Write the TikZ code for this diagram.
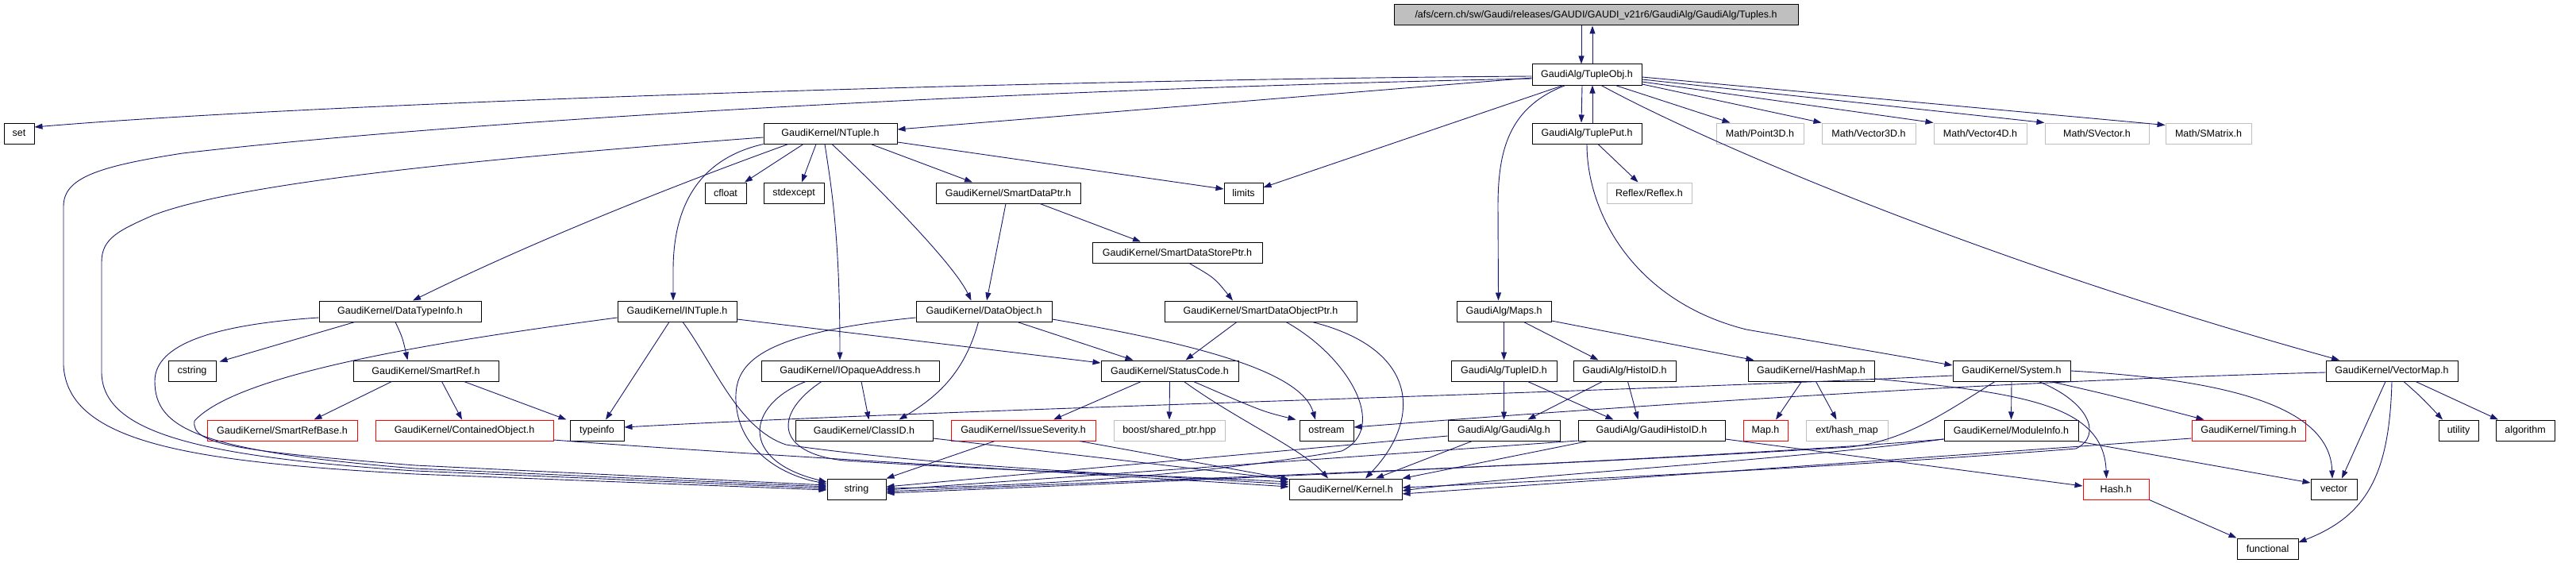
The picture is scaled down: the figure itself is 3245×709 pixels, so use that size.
\documentclass[tikz,border=0pt]{standalone}
\usepackage{fontspec}
\setmainfont{Liberation Sans}
\usetikzlibrary{arrows.meta}
\definecolor{edgec}{HTML}{191970}
\definecolor{grayb}{HTML}{BFBFBF}
\begin{document}
\begin{tikzpicture}[x=1pt,y=-1pt,
  every node/.style={font=\fontsize{12.5}{15}\selectfont},
  nb/.style={draw=black, line width=1pt, inner sep=0pt, minimum height=26pt, anchor=center, text=black},
  ng/.style={nb, draw=grayb},
  nr/.style={nb, draw=red},
  e/.style={draw=edgec, line width=0.9pt, -{Triangle[length=10pt,width=7pt]}},
]
\useasboundingbox (0,0) rectangle (3245,709);
\fill[white] (0,0) rectangle (3245,709);

% row 0
\node[nb, fill=grayb, minimum width=509pt] (tuples) at (2010.5,19) {/afs/cern.ch/sw/Gaudi/releases/GAUDI/GAUDI\_v21r6/GaudiAlg/GaudiAlg/Tuples.h};
% row 1
\node[nb, minimum width=138pt] (tupleobj) at (1999,94) {GaudiAlg/TupleObj.h};
% row 2
\node[nb, minimum width=38pt] (set) at (24,168) {set};
\node[nb, minimum width=168pt] (ntuple) at (1046,168) {GaudiKernel/NTuple.h};
\node[nb, minimum width=138pt] (tupleput) at (1999,168) {GaudiAlg/TuplePut.h};
\node[ng, minimum width=110pt] (point3d) at (2217,168) {Math/Point3D.h};
\node[ng, minimum width=118pt] (vector3d) at (2354,168) {Math/Vector3D.h};
\node[ng, minimum width=117pt] (vector4d) at (2494.5,168) {Math/Vector4D.h};
\node[ng, minimum width=131pt] (svector) at (2641.5,168) {Math/SVector.h};
\node[ng, minimum width=108pt] (smatrix) at (2782,168) {Math/SMatrix.h};
% row 3
\node[nb, minimum width=52pt] (cfloat) at (914,243) {cfloat};
\node[nb, minimum width=76pt] (stdexcept) at (1000,243) {stdexcept};
\node[nb, minimum width=182pt] (smartdataptr) at (1270,243) {GaudiKernel/SmartDataPtr.h};
\node[nb, minimum width=49pt] (limits) at (1566.5,243) {limits};
\node[ng, minimum width=107pt] (reflex) at (2077.5,243) {Reflex/Reflex.h};
% row 4
\node[nb, minimum width=214pt] (smartdatastoreptr) at (1483,318) {GaudiKernel/SmartDataStorePtr.h};
% row 5
\node[nb, minimum width=204pt] (datatypeinfo) at (504,392) {GaudiKernel/DataTypeInfo.h};
\node[nb, minimum width=150pt] (intuple) at (853,392) {GaudiKernel/INTuple.h};
\node[nb, minimum width=171pt] (dataobject) at (1239.5,392) {GaudiKernel/DataObject.h};
\node[nb, minimum width=242pt] (smartdataobjectptr) at (1588,392) {GaudiKernel/SmartDataObjectPtr.h};
\node[nb, minimum width=119pt] (maps) at (1894.5,392) {GaudiAlg/Maps.h};
% row 6
\node[nb, minimum width=60pt] (cstring) at (242,467) {cstring};
\node[nb, minimum width=183pt] (smartref) at (536.5,467) {GaudiKernel/SmartRef.h};
\node[nb, minimum width=224pt] (iopaque) at (1071,467) {GaudiKernel/IOpaqueAddress.h};
\node[nb, minimum width=173pt] (statuscode) at (1473.5,467) {GaudiKernel/StatusCode.h};
\node[nb, minimum width=133pt] (tupleid) at (1894.5,467) {GaudiAlg/TupleID.h};
\node[nb, minimum width=129pt] (histoid) at (2046.5,467) {GaudiAlg/HistoID.h};
\node[nb, minimum width=159pt] (hashmap) at (2281.5,467) {GaudiKernel/HashMap.h};
\node[nb, minimum width=148pt] (system) at (2534,467) {GaudiKernel/System.h};
\node[nb, minimum width=166pt] (vectormap) at (3013,467) {GaudiKernel/VectorMap.h};
% row 7
\node[nr, minimum width=189pt] (smartrefbase) at (355.5,542) {GaudiKernel/SmartRefBase.h};
\node[nr, minimum width=224pt] (containedobject) at (585,542) {GaudiKernel/ContainedObject.h};
\node[nb, minimum width=68pt] (typeinfo) at (752,542) {typeinfo};
\node[nb, minimum width=173pt] (classid) at (1088.5,542) {GaudiKernel/ClassID.h};
\node[nr, minimum width=182pt] (issueseverity) at (1289,542) {GaudiKernel/IssueSeverity.h};
\node[ng, minimum width=140pt] (boost) at (1473,542) {boost/shared\_ptr.hpp};
\node[nb, minimum width=68pt] (ostream) at (1671,542) {ostream};
\node[nb, minimum width=141pt] (gaudialg) at (1894.5,542) {GaudiAlg/GaudiAlg.h};
\node[nb, minimum width=185pt] (gaudihistoid) at (2080.5,542) {GaudiAlg/GaudiHistoID.h};
\node[nr, minimum width=56pt] (maph) at (2224,542) {Map.h};
\node[ng, minimum width=103pt] (exthashmap) at (2326.5,542) {ext/hash\_map};
\node[nb, minimum width=169pt] (moduleinfo) at (2533.5,542) {GaudiKernel/ModuleInfo.h};
\node[nr, minimum width=143pt] (timing) at (2832.5,542) {GaudiKernel/Timing.h};
\node[nb, minimum width=50pt] (utility) at (3097,542) {utility};
\node[nb, minimum width=74pt] (algorithm) at (3181,542) {algorithm};
% row 8
\node[nb, minimum width=74pt] (string) at (1079,616) {string};
\node[nb, minimum width=142pt] (kernel) at (1695,616) {GaudiKernel/Kernel.h};
\node[nr, minimum width=83pt] (hash) at (2665.5,616) {Hash.h};
\node[nb, minimum width=58pt] (vector) at (2940,616) {vector};
% row 9
\node[nb, minimum width=77pt] (functional) at (2856.5,691) {functional};

% ---- edges ----
\draw[e] ([xshift=-18.5pt]tuples.south) -- ([xshift=-7pt]tupleobj.north);
\draw[e] ([xshift=7pt]tupleobj.north) -- ([xshift=-4.5pt]tuples.south);
\draw[e] ([xshift=-6pt]tupleobj.south) -- ([xshift=-7pt]tupleput.north);
\draw[e] ([xshift=7pt]tupleput.north) -- ([xshift=7pt]tupleobj.south);

\draw[e] ([yshift=-2pt]tupleobj.west) .. controls (1300,100) and (400,130) .. ([yshift=8pt]set.east);
\draw[e] ([yshift=-5pt]tupleobj.west) .. controls (1300,112) and (600,150) .. (230,193)
   .. controls (120,210) and (80,225) .. (80,260) -- (80,460)
   .. controls (85,560) and (250,582) .. (523,597) -- ([yshift=-1pt]string.west);
\draw[e] ([yshift=-4pt]tupleobj.west) -- ([yshift=5pt]ntuple.east);
\draw[e] ([xshift=-30pt]tupleobj.south) -- ([yshift=7pt]limits.east);
\draw[e] ([xshift=-27pt]tupleobj.south) .. controls (1900,135) and (1887,190) .. (1887,260) -- ([xshift=-7pt]maps.north);
\draw[e] ([xshift=36pt]tupleobj.south) -- ([xshift=18pt]point3d.north west);
\draw[e] ([yshift=-12pt]tupleobj.east) -- (vector3d.north west);
\draw[e] ([yshift=-9pt]tupleobj.east) -- (vector4d.north west);
\draw[e] ([yshift=-6pt]tupleobj.east) -- (svector.north west);
\draw[e] ([yshift=-3pt]tupleobj.east) -- ([yshift=-3pt]smatrix.north west);
\draw[e] ([xshift=18pt]tupleobj.south) .. controls (2150,180) and (2500,330) .. ([xshift=-66pt]vectormap.north);

\draw[e] ([xshift=14pt]tupleput.south) -- ([xshift=-14pt]reflex.north);
\draw[e] (tupleput.south) .. controls (1999,270) and (2060,380) .. (2200,415) -- ([yshift=7pt]system.west);

\draw[e] ([xshift=-34pt]ntuple.south) -- ([xshift=24pt]cfloat.north);
\draw[e] ([xshift=-18pt]ntuple.south) -- ([xshift=10pt]stdexcept.north);
\draw[e] ([xshift=51pt]ntuple.south) -- ([xshift=-45pt]smartdataptr.north);
\draw[e] ([yshift=-11pt]ntuple.east) -- ([yshift=5pt]limits.west);
\draw[e] (ntuple.south west) .. controls (880,200) and (848,260) .. (848,340) -- ([xshift=-5pt]intuple.north);
\draw[e] ([xshift=-53pt]ntuple.south) .. controls (900,215) and (700,290) .. ([xshift=16pt]datatypeinfo.north);
\draw[e] ([xshift=-7pt]ntuple.south) .. controls (1048,240) and (1058,300) .. ([xshift=-13pt]iopaque.north);
\draw[e] ([xshift=2pt]ntuple.south) .. controls (1100,230) and (1200,330) .. ([xshift=-16pt]dataobject.north);
\draw[e] ([yshift=-5pt]ntuple.west) .. controls (600,200) and (300,230) .. (193,271)
   .. controls (150,290) and (128,300) .. (128,330) -- (128,470)
   .. controls (130,545) and (250,575) .. (523,593) -- ([yshift=1pt]string.west);

\draw[e] ([xshift=40pt]smartdataptr.south) -- ([xshift=-46pt]smartdatastoreptr.north);
\draw[e] ([xshift=-3pt]smartdataptr.south) -- ([xshift=3.5pt]dataobject.north);
\draw[e] ([xshift=15pt]smartdatastoreptr.south) .. controls (1530,350) .. ([xshift=-35pt]smartdataobjectptr.north);

\draw[e] ([xshift=-57pt]datatypeinfo.south) -- ([xshift=4pt,yshift=-2pt]cstring.north east);
\draw[e] ([xshift=-6pt]datatypeinfo.south) .. controls (507,425) .. ([xshift=-23pt]smartref.north);
\draw[e] ([yshift=-8pt]datatypeinfo.west) .. controls (250,410) and (195,440) .. (195,480)
   .. controls (195,540) and (250,568) .. (523,590) -- ([yshift=3pt]string.west);

\draw[e] ([xshift=-43pt]smartref.south) -- ([xshift=40pt]smartrefbase.north);
\draw[e] ([xshift=20pt]smartref.south) -- ([xshift=-3pt]containedobject.north);
\draw[e] ([xshift=48pt]smartref.south) -- ([xshift=-4pt]typeinfo.north west);

\draw[e] ([xshift=-10pt]intuple.south) -- ([xshift=11pt]typeinfo.north);
\draw[e] ([yshift=-8pt]intuple.west) .. controls (550,430) and (300,470) .. (245,530)
   .. controls (240,560) and (300,568) .. (523,586) -- ([yshift=5pt]string.west);
\draw[e] ([xshift=7pt]intuple.south) .. controls (900,460) and (930,540) .. (990,560)
   .. controls (1200,590) and (1450,598) .. ([yshift=6pt]kernel.west);
\draw[e] ([yshift=-10pt]intuple.east) -- ([yshift=10pt]statuscode.west);

\draw[e] ([yshift=-8pt]dataobject.west) .. controls (950,420) and (925,460) .. (927,505)
   .. controls (930,570) and (990,600) .. ([yshift=7pt]string.west);
\draw[e] ([xshift=-7pt]dataobject.south) .. controls (1215,470) and (1180,500) .. ([xshift=44pt]classid.north);
\draw[e] ([xshift=42pt]dataobject.south) -- ([xshift=-46pt]statuscode.north);
\draw[e] ([yshift=-10pt]dataobject.east) .. controls (1520,435) and (1640,470) .. ([xshift=-14pt]ostream.north);

\draw[e] ([xshift=14pt]iopaque.south) -- ([xshift=6pt]classid.north);
\draw[e] ([xshift=-56pt]iopaque.south) .. controls (940,510) and (930,580) .. ([yshift=9pt]string.west);
\draw[e] ([xshift=-36pt]iopaque.south) .. controls (975,520) and (975,570) .. (1063,580)
   .. controls (1300,595) and (1500,600) .. ([yshift=9pt]kernel.west);

\draw[e] ([yshift=-12pt]containedobject.east) .. controls (900,570) and (1300,592) .. ([yshift=3pt]kernel.west);
\draw[e] ([yshift=-10pt]classid.east) -- ([yshift=12pt]kernel.west);

\draw[e] ([xshift=-36pt]issueseverity.south) -- (string.north east);
\draw[e] ([xshift=71pt]issueseverity.south) -- ([yshift=-1pt]kernel.north west);

\draw[e] ([xshift=-36pt]statuscode.south) -- ([xshift=38pt]issueseverity.north);
\draw[e] (statuscode.south) -- (boost.north);
\draw[e] ([xshift=30pt]statuscode.south) .. controls (1590,518) .. ([xshift=-4pt]ostream.north west);
\draw[e] ([xshift=18pt]statuscode.south) .. controls (1560,530) and (1640,565) .. ([xshift=-22pt]kernel.north);

\draw[e] ([xshift=-30pt]smartdataobjectptr.south) -- ([xshift=20pt]statuscode.north);
\draw[e] ([xshift=32pt]smartdataobjectptr.south) .. controls (1700,450) and (1750,540) .. (1690,568)
   .. controls (1500,600) and (1300,612) .. ([yshift=1pt]string.east);
\draw[e] ([xshift=65pt]smartdataobjectptr.south) .. controls (1790,440) and (1790,530) .. ([xshift=25pt]kernel.north);

\draw[e] (maps.south) -- (tupleid.north);
\draw[e] ([xshift=25pt]maps.south) -- ([xshift=-33pt]histoid.north);
\draw[e] ([yshift=-12pt]maps.east) -- ([xshift=8pt]hashmap.north west);

\draw[e] (tupleid.south) -- (gaudialg.north);
\draw[e] ([xshift=30pt]tupleid.south) -- ([xshift=-48pt]gaudihistoid.north);
\draw[e] ([xshift=-28pt]histoid.south) -- ([xshift=30pt]gaudialg.north);
\draw[e] ([xshift=4pt]histoid.south) -- ([xshift=-17pt]gaudihistoid.north);

\draw[e] ([yshift=-7pt]gaudialg.west) -- ([yshift=3pt]string.east);
\draw[e] ([xshift=-40pt]gaudialg.south) -- ([xshift=38pt]kernel.north);
\draw[e] ([xshift=-80pt]gaudihistoid.south) -- (kernel.north east);
\draw[e] ([yshift=-13pt]gaudihistoid.west) -- ([yshift=-1pt]string.east);
\draw[e] ([yshift=-11pt]gaudihistoid.east) -- ([yshift=4pt]hash.west);

\draw[e] ([xshift=-12pt]hashmap.south) -- ([xshift=13pt]maph.north);
\draw[e] ([xshift=6pt]hashmap.south) -- ([xshift=-13pt]exthashmap.north);
\draw[e] ([yshift=-10pt]hashmap.east) .. controls (2550,495) and (2650,510) .. ([xshift=-12pt]hash.north);

\draw[e] (system.south) -- (moduleinfo.north);
\draw[e] ([xshift=49pt]system.south) .. controls (2660,498) .. ([xshift=16pt]timing.north west);
\draw[e] (system.east) .. controls (2800,478) and (2935,510) .. ([xshift=-2pt]vector.north);
\draw[e] ([yshift=-6pt]system.west) .. controls (2000,495) and (1200,515) .. ([yshift=4pt]typeinfo.east);
\draw[e] ([xshift=-21pt]system.south) .. controls (2450,520) and (2400,555) .. (2330,563)
   .. controls (1900,590) and (1400,606) .. ([yshift=-3pt]string.east);
\draw[e] ([xshift=34pt]system.south) .. controls (2630,505) and (2650,548) .. (2615,565)
   .. controls (2300,590) and (1900,608) .. ([yshift=2pt]kernel.east);

\draw[e] ([yshift=-11pt]moduleinfo.west) .. controls (2200,575) and (1500,605) .. ([yshift=-5pt]string.east);
\draw[e] ([yshift=-11pt]moduleinfo.west) .. controls (2250,580) and (1900,600) .. ([yshift=-2pt]kernel.east);
\draw[e] ([yshift=-14pt]moduleinfo.east) -- ([yshift=8pt]vector.west);

\draw[e] ([yshift=-10pt]timing.west) .. controls (2400,578) and (2000,606) .. ([yshift=-6pt]kernel.east);

\draw[e] (hash.south east) -- (functional.north west);

\draw[e] ([yshift=-2pt]vectormap.west) .. controls (2500,480) and (2000,515) .. ([yshift=4pt]ostream.east);
\draw[e] ([xshift=-8pt]vectormap.south) -- ([xshift=10pt]vector.north);
\draw[e] (vectormap.south) .. controls (3010,600) and (2980,650) .. ([yshift=8pt]functional.east);
\draw[e] ([xshift=15pt]vectormap.south) .. controls (3050,500) .. ([xshift=-20pt]utility.north);
\draw[e] ([xshift=30pt]vectormap.south) -- ([xshift=-34pt]algorithm.north);
\end{tikzpicture}
\end{document}
